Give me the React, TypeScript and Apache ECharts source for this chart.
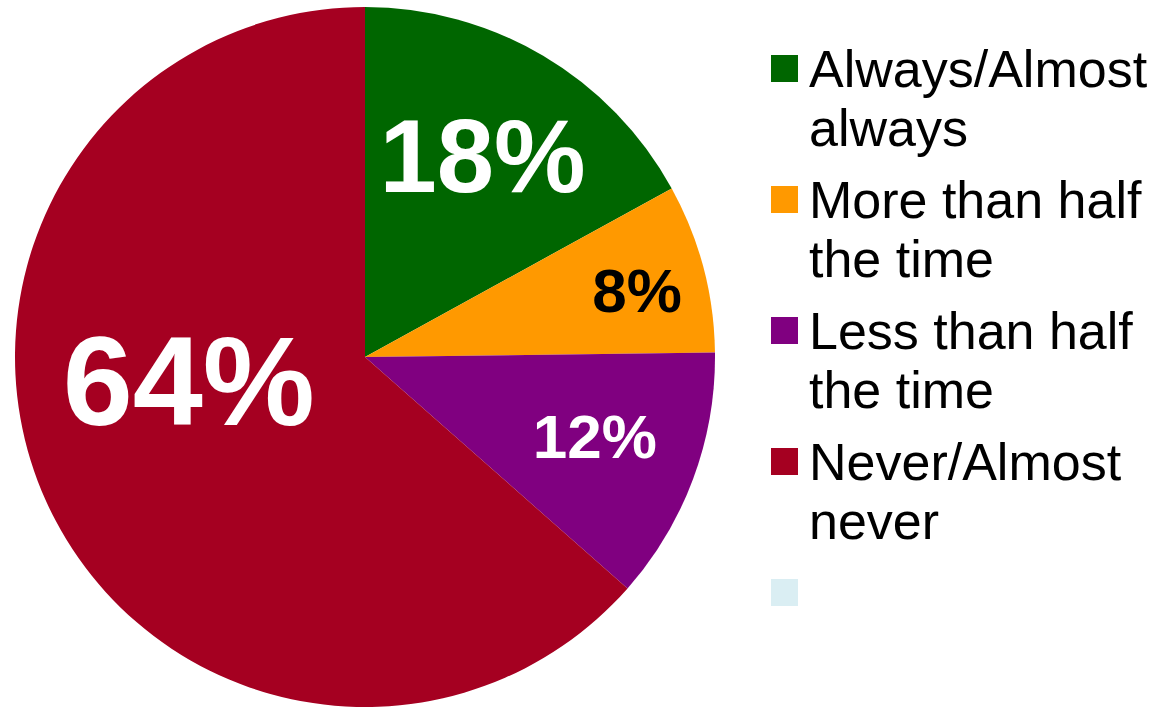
import React, { useEffect, useRef } from "react";
import * as echarts from "echarts";

const categories = ["Always/Almost always", "More than half the time", "Less than half the time", "Never/Almost never", " "];
const legendText = ["Always/Almost\nalways", "More than half\nthe time", "Less than half\nthe time", "Never/Almost\nnever", " \n "];
const values = [17.0, 7.8, 11.7, 63.5, 0];
const pctLabels = ["18%", "8%", "12%", "64%", ""];
const colors = ["#006600", "#FF9900", "#800080", "#A50021", "#DAEEF3"];
const labelColors = ["#ffffff", "#000000", "#ffffff", "#ffffff", "#ffffff"];
const labelSizes = [103, 62, 62, 126, 10];
const labelShift = [
  [27, -47],
  [100, -21],
  [63, 18],
  [-14, -49],
  [0, 0],
];

export default function App() {
  const ref = useRef<HTMLDivElement>(null);
  useEffect(() => {
    if (!ref.current) return;
    const chart = echarts.init(ref.current, null, { renderer: "svg" });
    const font = "'Liberation Sans', Arial, sans-serif";
    chart.setOption({
      animation: false,
      backgroundColor: "#ffffff",
      legend: {
        orient: "vertical",
        left: 771,
        top: -20,
        padding: 0,
        itemGap: -46,
        itemWidth: 27,
        itemHeight: 27,
        icon: "rect",
        selectedMode: false,
        data: categories.map((c) => ({ name: c })),
        formatter: (name: string) => " \n" + legendText[categories.indexOf(name)],
        textStyle: {
          fontFamily: font,
          fontSize: 52,
          lineHeight: 59,
          color: "#000000",
          padding: [0, 0, 0, 6],
        },
      },
      series: [
        {
          type: "pie",
          center: [365, 357],
          radius: 350,
          startAngle: 90,
          clockwise: true,
          avoidLabelOverlap: false,
          itemStyle: { borderWidth: 0 },
          emphasis: { disabled: true },
          label: {
            show: true,
            position: "inside",
            fontFamily: font,
            fontWeight: "bold",
          },
          labelLine: { show: false },
          labelLayout: (params: any) => {
            const s = labelShift[params.dataIndex] || [0, 0];
            return { dx: s[0], dy: s[1] };
          },
          data: categories.map((c, i) => ({
            name: c,
            value: values[i],
            itemStyle: { color: colors[i] },
            label: {
              show: pctLabels[i] !== "",
              formatter: pctLabels[i],
              color: labelColors[i],
              fontSize: labelSizes[i],
            },
          })),
        },
      ],
    });
    return () => chart.dispose();
  }, []);
  return (
    <div
      ref={ref}
      style={{ position: "absolute", left: 0, top: 0, width: 1155, height: 707 }}
    />
  );
}
